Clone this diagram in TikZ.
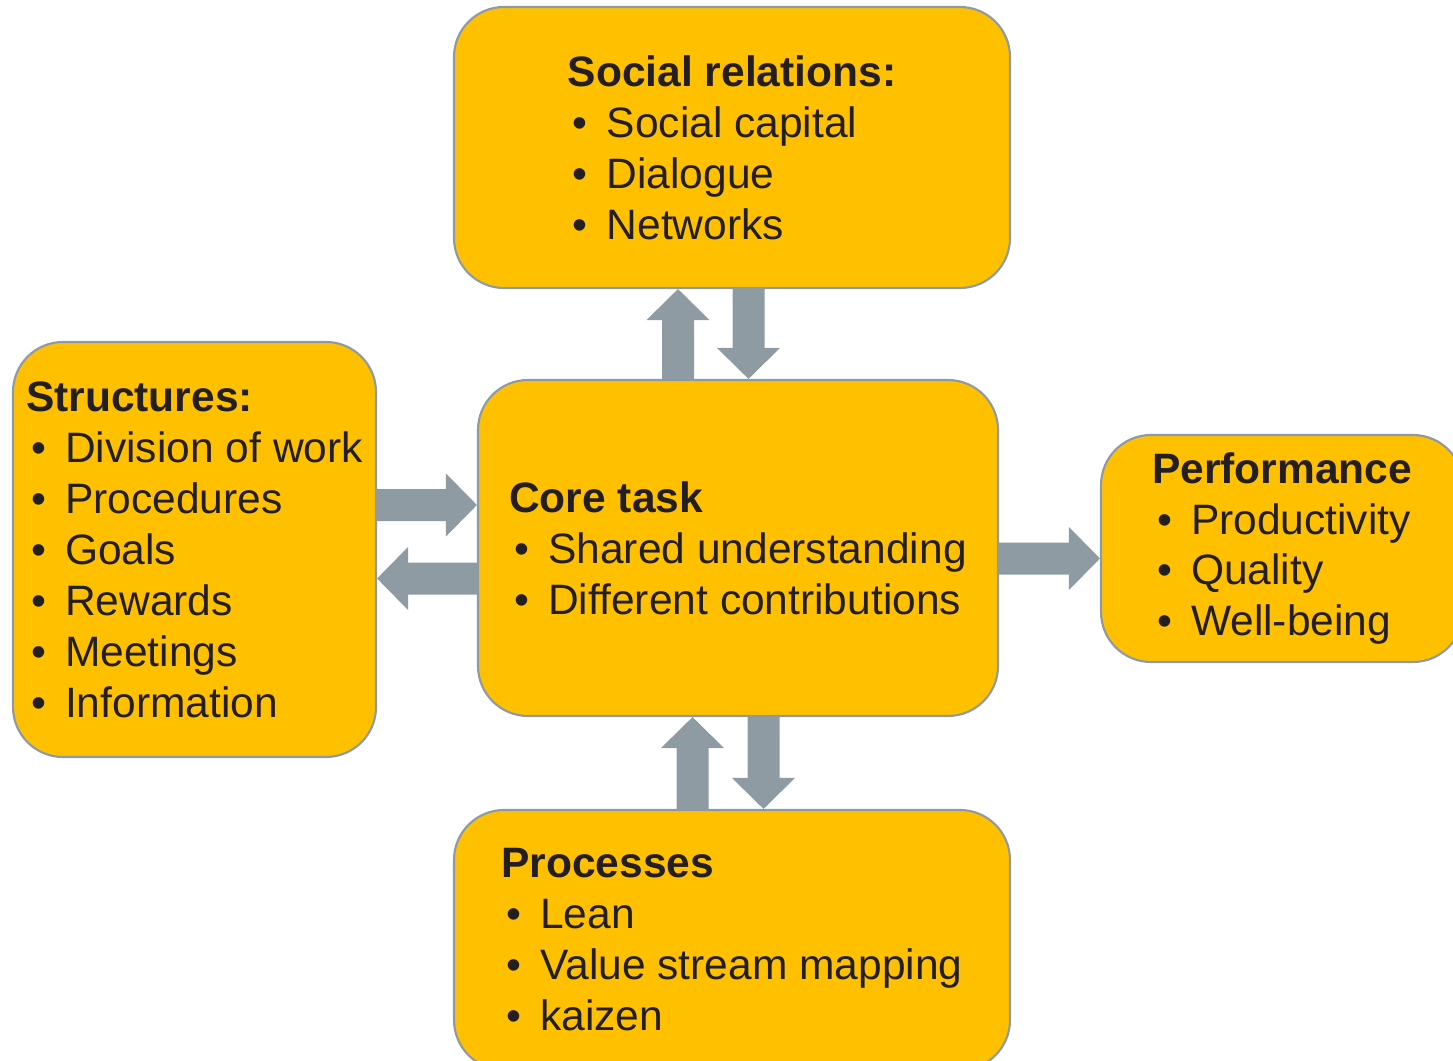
\documentclass[tikz,border=0pt]{standalone}
\usepackage{fontspec}
\setmainfont{Liberation Sans}
\usetikzlibrary{arrows.meta}

\definecolor{boxyellow}{HTML}{FFC000}
\definecolor{boxline}{HTML}{8E9AA3}
\definecolor{arrowgray}{HTML}{8E9BA3}
\definecolor{txt}{HTML}{231F20}

\newcommand{\itm}[1]{\makebox[0.39cm][l]{\hspace{0.05cm}\textbullet}#1}

\begin{document}
\begin{tikzpicture}[
    block/.style={draw=boxline,line width=0.6pt,fill=boxyellow,rounded corners=0.5cm,
        align=left,text=txt,font=\fontsize{12.1}{14.5}\selectfont,inner sep=0pt},
    blockarrow/.style={color=arrowgray,line width=0.32cm,
        -{Triangle[length=0.31cm,width=0.63cm,line width=0pt,fill=arrowgray]}}]
    \useasboundingbox (0,0) rectangle (14.53,-10.60);

    \node[block,minimum width=5.56cm,minimum height=2.81cm] (social) at (7.32,-1.475)
        {\textbf{Social relations:}\\ \itm{Social capital}\\ \itm{Dialogue}\\ \itm{Networks}};
    \node[block,minimum width=3.63cm,minimum height=4.15cm] (struct) at (1.945,-5.495)
        {\textbf{Structures:}\\ \itm{Division of work}\\ \itm{Procedures}\\ \itm{Goals}\\
         \itm{Rewards}\\ \itm{Meetings}\\ \itm{Information}};
    \node[block,minimum width=5.20cm,minimum height=3.36cm] (core) at (7.38,-5.48)
        {\textbf{Core task}\\ \itm{Shared understanding}\\ \itm{Different contributions}};
    \node[block,minimum width=3.62cm,minimum height=2.27cm] (perf) at (12.82,-5.485)
        {\textbf{Performance}\\ \itm{Productivity}\\ \itm{Quality}\\ \itm{Well-being}};
    \node[block,minimum width=5.56cm,minimum height=2.60cm] (proc) at (7.32,-9.40)
        {\textbf{Processes}\\ \itm{Lean}\\ \itm{Value stream mapping}\\ \itm{kaizen}};

    \path ([xshift=-0.60cm]core.north) edge[blockarrow] ([xshift=-0.54cm]social.south)
          ([xshift=0.165cm]social.south) edge[blockarrow] ([xshift=0.105cm]core.north)
          ([yshift=0.445cm]struct.east) edge[blockarrow] ([yshift=0.43cm]core.west)
          ([yshift=-0.305cm]core.west) edge[blockarrow] ([yshift=-0.29cm]struct.east)
          ([yshift=-0.105cm]core.east) edge[blockarrow] ([yshift=-0.10cm]perf.west)
          ([xshift=-0.395cm]proc.north) edge[blockarrow] ([xshift=-0.455cm]core.south)
          ([xshift=0.255cm]core.south) edge[blockarrow] ([xshift=0.315cm]proc.north);
\end{tikzpicture}
\end{document}
